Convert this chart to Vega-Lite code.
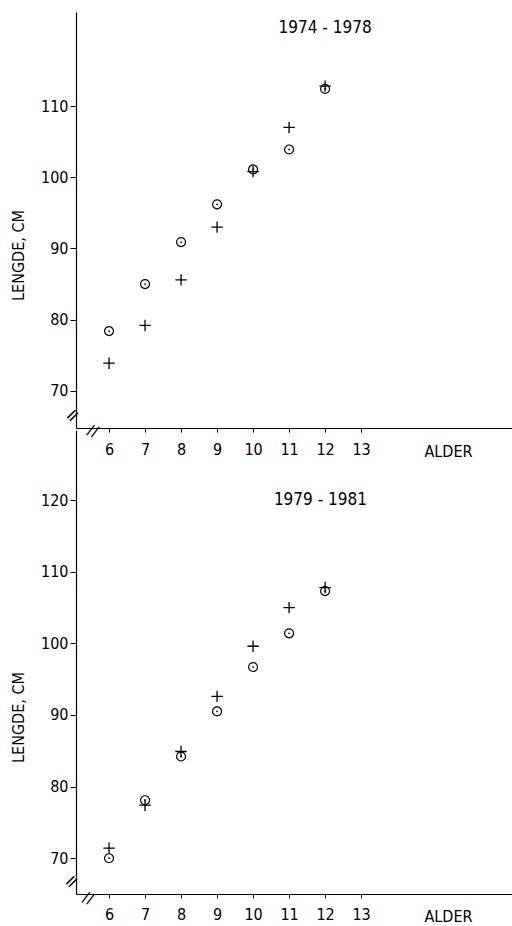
{
  "$schema": "https://vega.github.io/schema/vega-lite/v6.json",
  "padding": {"left": 10, "top": 12, "right": 0, "bottom": 0},
  "background": "white",
  "datasets": {
    "points": [
      {"period": "1974 - 1978", "marker": "sirkel", "age": 6, "length": 78.4},
      {"period": "1974 - 1978", "marker": "sirkel", "age": 7, "length": 85.0},
      {"period": "1974 - 1978", "marker": "sirkel", "age": 8, "length": 90.9},
      {"period": "1974 - 1978", "marker": "sirkel", "age": 9, "length": 96.2},
      {"period": "1974 - 1978", "marker": "sirkel", "age": 10, "length": 101.1},
      {"period": "1974 - 1978", "marker": "sirkel", "age": 11, "length": 103.9},
      {"period": "1974 - 1978", "marker": "sirkel", "age": 12, "length": 112.4},
      {"period": "1974 - 1978", "marker": "kryss", "age": 6, "length": 73.9},
      {"period": "1974 - 1978", "marker": "kryss", "age": 7, "length": 79.2},
      {"period": "1974 - 1978", "marker": "kryss", "age": 8, "length": 85.6},
      {"period": "1974 - 1978", "marker": "kryss", "age": 9, "length": 93.0},
      {"period": "1974 - 1978", "marker": "kryss", "age": 10, "length": 100.8},
      {"period": "1974 - 1978", "marker": "kryss", "age": 11, "length": 107.0},
      {"period": "1974 - 1978", "marker": "kryss", "age": 12, "length": 112.8},
      {"period": "1979 - 1981", "marker": "sirkel", "age": 6, "length": 70.0},
      {"period": "1979 - 1981", "marker": "sirkel", "age": 7, "length": 78.1},
      {"period": "1979 - 1981", "marker": "sirkel", "age": 8, "length": 84.2},
      {"period": "1979 - 1981", "marker": "sirkel", "age": 9, "length": 90.5},
      {"period": "1979 - 1981", "marker": "sirkel", "age": 10, "length": 96.7},
      {"period": "1979 - 1981", "marker": "sirkel", "age": 11, "length": 101.4},
      {"period": "1979 - 1981", "marker": "sirkel", "age": 12, "length": 107.3},
      {"period": "1979 - 1981", "marker": "kryss", "age": 6, "length": 71.4},
      {"period": "1979 - 1981", "marker": "kryss", "age": 7, "length": 77.4},
      {"period": "1979 - 1981", "marker": "kryss", "age": 8, "length": 84.9},
      {"period": "1979 - 1981", "marker": "kryss", "age": 9, "length": 92.6},
      {"period": "1979 - 1981", "marker": "kryss", "age": 10, "length": 99.6},
      {"period": "1979 - 1981", "marker": "kryss", "age": 11, "length": 105.0},
      {"period": "1979 - 1981", "marker": "kryss", "age": 12, "length": 107.8}
    ],
    "labels": [
      {"period": "1974 - 1978", "age": 12.0, "length": 120.9},
      {"period": "1979 - 1981", "age": 11.87, "length": 120.0}
    ],
    "breaks": [
      {"period": "1974 - 1978", "axis": "x", "age": 5.556, "length": 64.4, "sym": "//"},
      {"period": "1974 - 1978", "axis": "y", "age": 5.0, "length": 66.5, "sym": "="},
      {"period": "1979 - 1981", "axis": "x", "age": 5.42, "length": 64.45, "sym": "//"},
      {"period": "1979 - 1981", "axis": "y", "age": 4.97, "length": 66.7, "sym": "="}
    ]
  },
  "vconcat": [
    {
      "width": 436,
      "height": 416,
      "layer": [
        {
          "data": {"name": "points"},
          "transform": [{"filter": "datum.period === '1974 - 1978' && datum.marker === 'sirkel'"}],
          "mark": {"type": "point", "shape": "circle", "filled": false, "size": 80, "strokeWidth": 1.2, "color": "black", "opacity": 1},
          "encoding": {
            "x": {"field": "age", "type": "quantitative", "scale": {"domain": [5.083, 17.19], "nice": false, "zero": false},
                  "axis": {"values": [6, 7, 8, 9, 10, 11, 12, 13], "title": "ALDER", "titleX": 372, "titleY": 23, "titleAlign": "center", "titleBaseline": "middle", "tickSize": 4, "labelPadding": 9}},
            "y": {"field": "length", "type": "quantitative", "scale": {"domain": [64.8, 123.2], "nice": false, "zero": false},
                  "axis": {"values": [70, 80, 90, 100, 110], "title": "LENGDE, CM", "titleX": -58, "titleY": 243, "titleAlign": "center", "titleBaseline": "middle", "titleAngle": -90, "tickSize": 6, "labelPadding": 2}}
          }
        },
        {
          "data": {"name": "points"},
          "transform": [{"filter": "datum.period === '1974 - 1978' && datum.marker === 'sirkel'"}],
          "mark": {"type": "point", "shape": "circle", "filled": true, "size": 3, "color": "black", "opacity": 1},
          "encoding": {
            "x": {"field": "age", "type": "quantitative"},
            "y": {"field": "length", "type": "quantitative"}
          }
        },
        {
          "data": {"name": "points"},
          "transform": [{"filter": "datum.period === '1974 - 1978' && datum.marker === 'kryss'"}],
          "mark": {"type": "point", "shape": "M-1,0H1M0,-1V1", "filled": false, "size": 130, "strokeWidth": 1.3, "color": "black", "opacity": 1},
          "encoding": {
            "x": {"field": "age", "type": "quantitative"},
            "y": {"field": "length", "type": "quantitative"}
          }
        },
        {
          "data": {"name": "labels"},
          "transform": [{"filter": "datum.period === '1974 - 1978'"}],
          "mark": {"type": "text", "fontSize": 17, "align": "center", "baseline": "middle", "color": "black", "font": "DejaVu Sans Condensed, Liberation Sans Narrow, DejaVu Sans"},
          "encoding": {
            "x": {"field": "age", "type": "quantitative"},
            "y": {"field": "length", "type": "quantitative"},
            "text": {"field": "period"}
          }
        },
        {
          "data": {"name": "breaks"},
          "transform": [{"filter": "datum.period === '1974 - 1978' && datum.axis === 'x'"}],
          "mark": {"type": "text", "fontSize": 15, "angle": 20, "align": "center", "baseline": "middle", "color": "black", "font": "DejaVu Sans"},
          "encoding": {
            "x": {"field": "age", "type": "quantitative"},
            "y": {"field": "length", "type": "quantitative"},
            "text": {"field": "sym"}
          }
        },
        {
          "data": {"name": "breaks"},
          "transform": [{"filter": "datum.period === '1974 - 1978' && datum.axis === 'y'"}],
          "mark": {"type": "text", "fontSize": 18, "angle": -45, "align": "center", "baseline": "middle", "color": "black", "font": "DejaVu Sans"},
          "encoding": {
            "x": {"field": "age", "type": "quantitative"},
            "y": {"field": "length", "type": "quantitative"},
            "text": {"field": "sym"}
          }
        }
      ]
    },
    {
      "width": 436,
      "height": 464,
      "layer": [
        {
          "data": {"name": "points"},
          "transform": [{"filter": "datum.period === '1979 - 1981' && datum.marker === 'sirkel'"}],
          "mark": {"type": "point", "shape": "circle", "filled": false, "size": 80, "strokeWidth": 1.2, "color": "black", "opacity": 1},
          "encoding": {
            "x": {"field": "age", "type": "quantitative", "scale": {"domain": [5.083, 17.19], "nice": false, "zero": false},
                  "axis": {"values": [6, 7, 8, 9, 10, 11, 12, 13], "title": "ALDER", "titleX": 372, "titleY": 22, "titleAlign": "center", "titleBaseline": "middle", "tickSize": 4, "labelPadding": 8}},
            "y": {"field": "length", "type": "quantitative", "scale": {"domain": [65.0, 129.8], "nice": false, "zero": false},
                  "axis": {"values": [70, 80, 90, 100, 110, 120], "title": "LENGDE, CM", "titleX": -58, "titleY": 287, "titleAlign": "center", "titleBaseline": "middle", "titleAngle": -90, "tickSize": 6, "labelPadding": 2}}
          }
        },
        {
          "data": {"name": "points"},
          "transform": [{"filter": "datum.period === '1979 - 1981' && datum.marker === 'sirkel'"}],
          "mark": {"type": "point", "shape": "circle", "filled": true, "size": 3, "color": "black", "opacity": 1},
          "encoding": {
            "x": {"field": "age", "type": "quantitative"},
            "y": {"field": "length", "type": "quantitative"}
          }
        },
        {
          "data": {"name": "points"},
          "transform": [{"filter": "datum.period === '1979 - 1981' && datum.marker === 'kryss'"}],
          "mark": {"type": "point", "shape": "M-1,0H1M0,-1V1", "filled": false, "size": 130, "strokeWidth": 1.3, "color": "black", "opacity": 1},
          "encoding": {
            "x": {"field": "age", "type": "quantitative"},
            "y": {"field": "length", "type": "quantitative"}
          }
        },
        {
          "data": {"name": "labels"},
          "transform": [{"filter": "datum.period === '1979 - 1981'"}],
          "mark": {"type": "text", "fontSize": 17, "align": "center", "baseline": "middle", "color": "black", "font": "DejaVu Sans Condensed, Liberation Sans Narrow, DejaVu Sans"},
          "encoding": {
            "x": {"field": "age", "type": "quantitative"},
            "y": {"field": "length", "type": "quantitative"},
            "text": {"field": "period"}
          }
        },
        {
          "data": {"name": "breaks"},
          "transform": [{"filter": "datum.period === '1979 - 1981' && datum.axis === 'x'"}],
          "mark": {"type": "text", "fontSize": 15, "angle": 20, "align": "center", "baseline": "middle", "color": "black", "font": "DejaVu Sans"},
          "encoding": {
            "x": {"field": "age", "type": "quantitative"},
            "y": {"field": "length", "type": "quantitative"},
            "text": {"field": "sym"}
          }
        },
        {
          "data": {"name": "breaks"},
          "transform": [{"filter": "datum.period === '1979 - 1981' && datum.axis === 'y'"}],
          "mark": {"type": "text", "fontSize": 18, "angle": -45, "align": "center", "baseline": "middle", "color": "black", "font": "DejaVu Sans"},
          "encoding": {
            "x": {"field": "age", "type": "quantitative"},
            "y": {"field": "length", "type": "quantitative"},
            "text": {"field": "sym"}
          }
        }
      ]
    }
  ],
  "spacing": 2,
  "bounds": "flush",
  "config": {
    "view": {"stroke": null},
    "axis": {
      "grid": false,
      "domainColor": "black",
      "domainWidth": 1.2,
      "tickColor": "black",
      "labelColor": "black",
      "titleColor": "black",
      "labelFont": "DejaVu Sans Condensed, Liberation Sans Narrow, DejaVu Sans",
      "titleFont": "DejaVu Sans Condensed, Liberation Sans Narrow, DejaVu Sans",
      "labelFontSize": 16,
      "titleFontSize": 16,
      "titleFontWeight": "normal"
    }
  }
}
